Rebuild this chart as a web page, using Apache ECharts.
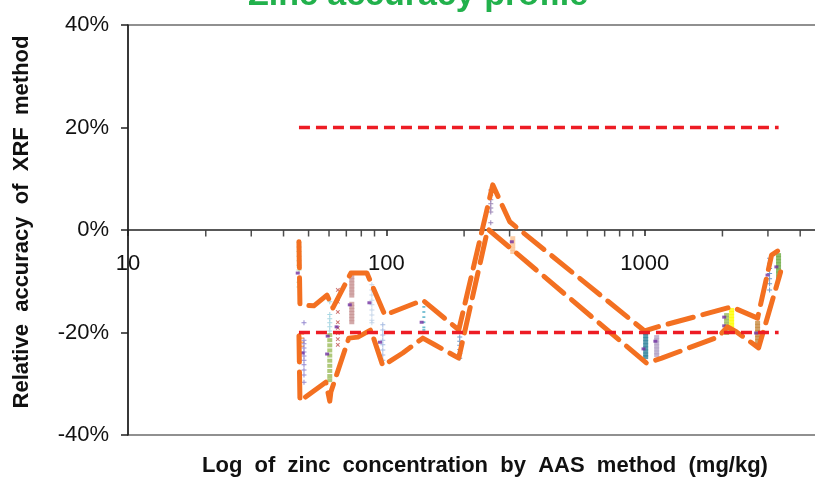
<!DOCTYPE html>
<html><head><meta charset="utf-8">
<script src="https://cdn.jsdelivr.net/npm/echarts@6/dist/echarts.min.js"></script>
<style>html,body{margin:0;padding:0;background:#fff}#c{width:815px;height:477px}</style>
</head><body><div id="c"></div>
<script>
// ---- axes / ticks ----
const xTickLabels = [10, 100, 1000];
const minorTickValues = [20,30,40,50,60,70,80,90,200,300,400,500,600,700,800,900,2000,3000,4000,5000,6000,7000,8000,9000];
const yTickValues = [-40, -20, 0, 20, 40];
// ---- acceptance limits (±20 %) ----
const limitRangeX = [45.9, 3300];
const upperLimitPct = 20;
const lowerLimitPct = -20;
// ---- tolerance interval limits (orange dashed) ----
const upperTolX = [45.9, 46.3, 52.4, 58.9, 62.1, 72.9, 84.1, 98.7, 138.4, 190.7, 258.2, 300.5, 1000, 1123, 2095, 2171, 2736, 3099, 3269];
const upperTolY = [-2.3, -14.6, -14.8, -12.7, -15.2, -8.4, -8.4, -16.6, -13.7, -19.5, 8.8, 1.6, -19.7, -18.9, -15.2, -15.0, -17.2, -4.9, -4.1];
const lowerTolX = [45.9, 46.3, 58.3, 60.4, 61.0, 71.6, 77.6, 87.1, 96.9, 115.8, 138.4, 154.0, 190.7, 247.0, 1018, 1164, 1916, 2095, 2269, 2761, 3358];
const lowerTolY = [-20.7, -33.4, -29.7, -33.4, -31.6, -21.1, -20.9, -19.5, -26.5, -24.0, -21.1, -22.4, -25.0, 0.2, -26.0, -25.0, -20.9, -18.9, -19.9, -23.0, -8.2];
// ---- measured relative accuracy points, per sample ----
const sA1 = {x: 45.9, v: [-2.4, -3.3, -4.2, -5.1, -6.0, -6.9, -7.8, -10.2, -11.1]};
const sA2 = {x: 46.8, v: [-20.3, -21.1, -21.9, -22.7]};
const sA3 = {x: 48.0, v: [-18.1, -21.5, -22.2, -23.0, -23.8, -24.6, -25.4, -26.3, -27.3, -28.3, -29.7]};
const sB1 = {x: 60.4, v: [-14.0, -16.5, -17.3, -18.1, -18.9, -19.7]};
const sB2 = {x: 60.4, v: [-20.5, -21.5, -22.5, -23.5, -24.5, -25.5, -26.5, -27.5, -28.5, -29.3]};
const sC  = {x: 64.9, v: [-11.7, -14.0, -16.0, -18.0, -19.1, -20.1, -21.3, -22.4]};
const sD  = {x: 73.5, v: [-9.2, -9.8, -10.4, -11.0, -11.6, -12.2, -12.8, -14.4, -15.0, -15.6, -16.2, -16.8, -17.4, -18.0]};
const sE  = {x: 87.9, v: [-10.7, -11.7, -12.7, -13.7, -14.6, -15.6, -16.6, -17.6, -18.1]};
const sF  = {x: 96.9, v: [-18.5, -19.5, -20.5, -21.5, -22.4, -23.4, -24.4, -25.4]};
const sG  = {x: 139.7, v: [-14.0, -15.0, -16.0, -17.0, -18.0, -19.0, -19.5]};
const sH  = {x: 192.4, v: [-20.9, -21.7, -22.5, -23.3, -24.1, -25.0]};
const sI  = {x: 253.7, v: [7.8, 6.8, 5.9, 5.1, 4.3, 3.5, 1.4]};
const sJ  = {x: 308.6, v: [-1.6, -2.3, -3.0, -3.7, -4.3]};
const sK  = {x: 1009, v: [-20.1, -20.7, -21.3, -21.9, -22.5, -23.1, -23.7, -24.3, -24.8]};
const sL  = {x: 1113, v: [-20.9, -21.5, -22.1, -22.7, -23.3, -23.9, -24.4]};
const sM  = {x: 2076, v: [-16.6, -17.2, -17.8, -18.4, -19.0, -19.6, -20.1]};
const sN  = {x: 2171, v: [-15.6, -16.2, -16.8, -17.4, -18.0, -18.6, -19.2, -19.5]};
const sO  = {x: 2736, v: [-18.1, -18.7, -19.3, -19.9, -20.5, -21.1, -21.7, -22.4]};
const sP  = {x: 3045, v: [-5.5, -6.5, -7.5, -8.5, -9.5, -10.5, -11.7]};
const sQ  = {x: 3298, v: [-4.9, -5.5, -6.1, -6.7, -7.3, -7.9, -8.5, -9.2]};
const meanPoints = [[45.4,-8.4],[47.4,-24.0],[59.0,-24.2],[59.3,-20.7],[64.2,-18.9],[72.2,-14.6],[86.0,-14.2],[94.5,-21.9],[137,-18.0],[306,-2.3],[990,-23.2],[1100,-21.7],[2032,-17.0],[2032,-18.7],[2700,-20.1],[2990,-8.8],[3235,-7.2]];

const PLUS = 'path://M2,0h1v2h2v1h-2v2h-1v-2h-2v-1h2z';
function pts(s){ return s.v.map(v => [s.x, v]); }
function sc(s, color, symbol, size, rot){
  return {type:'scatter', data: pts(s), symbol, symbolSize: size, symbolRotate: rot||0,
    itemStyle:{color}, silent:true, z:2, animation:false};
}
function zip(xs, ys){ return xs.map((x,i)=>[x, ys[i]]); }

const chart = echarts.init(document.getElementById('c'), null, {renderer:'canvas'});
const FONT = 'Liberation Sans, Arial, sans-serif';
const option = {
  animation:false,
  grid:{left:128, right:-88, top:25, bottom:42, show:true, borderColor:'#222', borderWidth:1.2,
    backgroundColor:'transparent', containLabel:false, outerBoundsMode:'none'},
  xAxis:{type:'log', logBase:10, min:10, max:10000,
    axisLine:{onZero:true, lineStyle:{color:'#222', width:1.5}},
    axisTick:{show:true, inside:false, length:6, lineStyle:{color:'#222', width:1.5}},
    axisLabel:{margin:-182, fontSize:22, fontFamily:FONT, color:'#111',
      formatter: v => xTickLabels.indexOf(Math.round(v)) >= 0 ? String(Math.round(v)) : ''},
    splitLine:{show:false}, minorTick:{show:false}},
  yAxis:{type:'value', min:yTickValues[0], max:yTickValues[yTickValues.length-1], interval:20,
    axisLine:{show:true, onZero:false, lineStyle:{color:'#222', width:1.5}},
    axisTick:{show:true, inside:false, length:7, lineStyle:{color:'#222', width:1.5}},
    axisLabel:{margin:19, fontSize:22, fontFamily:FONT, color:'#111', formatter:'{value}%'},
    splitLine:{show:false}},
  graphic:[
    {type:'text', style:{text:'Zinc accuracy profile', x:418, y:-4, textAlign:'center', textVerticalAlign:'middle',
      fill:'#22b14c', font:'bold 34px '+FONT}},
    {type:'text', style:{text:'Log  of  zinc  concentration  by  AAS  method  (mg/kg)', x:485, y:466, textAlign:'center', textVerticalAlign:'middle',
      fill:'#111', font:'bold 22px '+FONT}},
    {type:'text', rotation:Math.PI/2, x:22, y:222, style:{text:'Relative  accuracy  of  XRF  method', x:0, y:0, textAlign:'center', textVerticalAlign:'middle',
      fill:'#111', font:'bold 22px '+FONT}}
  ],
  series:[
    {type:'scatter', data: minorTickValues.map(v=>[v,0]), symbol:'rect', symbolSize:[1.5,6], symbolOffset:[0,3.5],
      itemStyle:{color:'#222'}, silent:true, z:1},
    sc(sA1,'#a9d08e',PLUS,5),
    sc(sA2,'#f79646','rect',[6,1.6]),
    sc(sA3,'#7a6cc4',PLUS,5),
    sc(sB1,'#92cddc',PLUS,5),
    sc(sB2,'#9bbb59','rect',[5,4]),
    sc(sC,'#c0504d',PLUS,5,45),
    sc(sD,'#c89393','rect',[5,4]),
    sc(sE,'#b8cce4',PLUS,5),
    sc(sF,'#8ea9db',PLUS,5),
    sc(sG,'#4bacc6','rect',[3,1.8]),
    sc(sH,'#4f81bd',PLUS,5),
    sc(sI,'#8064a2',PLUS,5),
    sc(sJ,'#fac090','rect',[5,4]),
    sc(sK,'#31859c','rect',[5,4]),
    sc(sL,'#b3a2c7','rect',[5,4]),
    sc(sM,'#9bbb59','rect',[5,4]),
    sc(sN,'#ffff00','rect',[5,4]),
    sc(sO,'#c6883d','rect',[5,4]),
    sc(sP,'#4f81bd',PLUS,5),
    sc(sQ,'#70ad47','rect',[5,4]),
    {type:'scatter', data: meanPoints, symbol:'rect', symbolSize:[4,3], itemStyle:{color:'#7030a0'}, silent:true, z:3},
    {type:'line', data: zip(upperTolX, upperTolY), showSymbol:false, symbol:'none', silent:true, z:4,
      lineStyle:{color:'#f37021', width:5, type:[26,10], cap:'round', join:'round'}},
    {type:'line', data: zip(lowerTolX, lowerTolY), showSymbol:false, symbol:'none', silent:true, z:4,
      lineStyle:{color:'#f37021', width:5, type:[26,10], cap:'round', join:'round'}},
    {type:'line', data: limitRangeX.map(x=>[x, upperLimitPct]), showSymbol:false, symbol:'none', silent:true, z:5,
      lineStyle:{color:'#ed1c24', width:3.5, type:[11,6]}},
    {type:'line', data: limitRangeX.map(x=>[x, lowerLimitPct]), showSymbol:false, symbol:'none', silent:true, z:5,
      lineStyle:{color:'#ed1c24', width:3.5, type:[11,6]}}
  ]
};
chart.setOption(option);
</script></body></html>
